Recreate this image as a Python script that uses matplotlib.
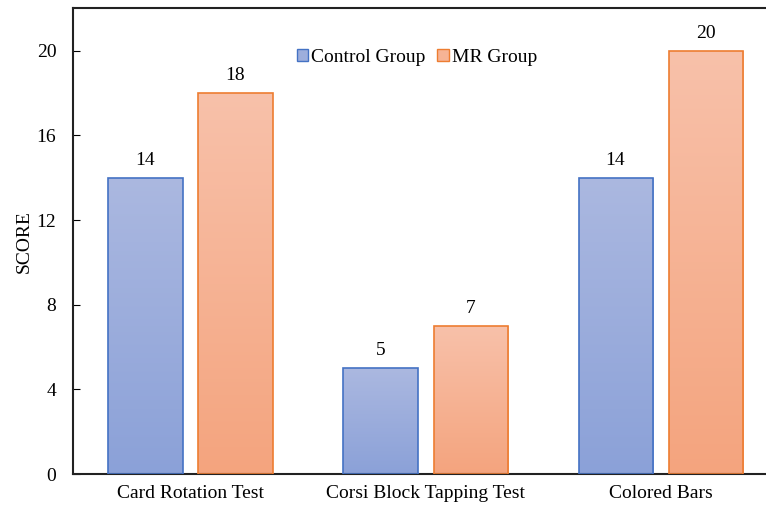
import numpy as np
import matplotlib
matplotlib.use('agg')
import matplotlib.pyplot as plt
from matplotlib.colors import LinearSegmentedColormap
from matplotlib.patches import Patch

categories = ['Card Rotation Test', 'Corsi Block Tapping Test', 'Colored Bars']
control = [14, 5, 14]
mr = [18, 7, 20]
series_names = ['Control Group', 'MR Group']

plt.rcParams['font.family'] = ['Liberation Serif', 'DejaVu Serif']

fig = plt.figure(figsize=(7.66, 5.08), dpi=100)
ax = fig.add_axes([0.0953, 0.0669, 0.9204, 0.9164])

blue_cmap = LinearSegmentedColormap.from_list('b', ['#8BA1D8', '#ABB8E0'])
orange_cmap = LinearSegmentedColormap.from_list('o', ['#F4A47E', '#F8C1AA'])

width = 0.315
gap = 0.068
x = np.arange(len(categories))
grad = np.linspace(0, 1, 256).reshape(-1, 1)
fs = 14

for vals, offset, cmap, edge in [(control, -(width + gap) / 2, blue_cmap, '#4472C4'),
                                 (mr, (width + gap) / 2, orange_cmap, '#ED7D31')]:
    bars = ax.bar(x + offset, vals, width, facecolor='none', edgecolor=edge, linewidth=1.2, zorder=3)
    for b, v in zip(bars, vals):
        x0 = b.get_x()
        im = ax.imshow(grad, extent=(x0, x0 + width, 0, v), origin='lower', cmap=cmap,
                       aspect='auto', zorder=2)
        im.set_clip_path(b)
        ax.text(x0 + width / 2, v + 0.42, str(v), ha='center', va='bottom', fontsize=fs)

ax.set_xlim(-0.5, 2.5)
ax.set_ylim(0, 22)
ax.set_yticks([0, 4, 8, 12, 16, 20])
ax.set_xticks(x)
ax.set_xticklabels(categories, fontsize=fs)
ax.tick_params(axis='y', direction='in', length=5, labelsize=fs, pad=12)
ax.tick_params(axis='x', length=0, pad=8)
ax.set_ylabel('SCORE', fontsize=fs, labelpad=3)
for s in ax.spines.values():
    s.set_linewidth(1.5)
    s.set_color('#222222')

handles = [Patch(facecolor='#9DAEDC', edgecolor='#4472C4'),
           Patch(facecolor='#F6B395', edgecolor='#ED7D31')]
ax.legend(handles, series_names, loc='center', bbox_to_anchor=(0.488, 0.895), ncol=2,
          frameon=False, fontsize=fs, handlelength=0.6, handleheight=0.6,
          handletextpad=0.15, columnspacing=0.6)

plt.savefig('out.png', dpi=100)
